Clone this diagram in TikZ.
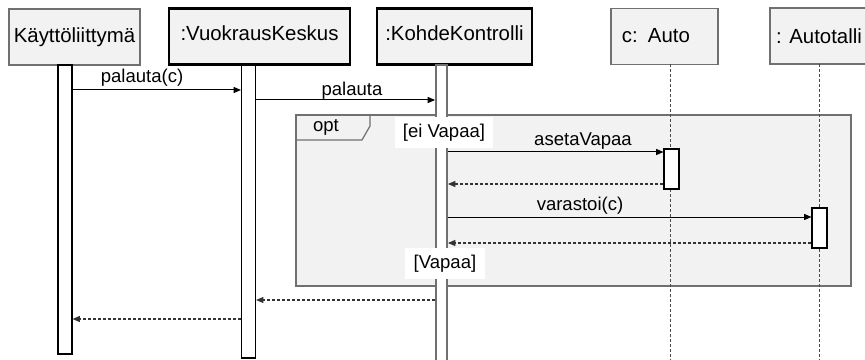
\documentclass[tikz,border=0pt]{standalone}
\usepackage{fontspec}
\setmainfont{Liberation Sans}
\usetikzlibrary{arrows.meta}
\definecolor{boxfill}{HTML}{F2F2F2}
\definecolor{frameline}{HTML}{707070}
\definecolor{lifegray}{HTML}{4A4A4A}
\definecolor{replygray}{HTML}{333333}
\begin{document}
\begin{tikzpicture}[x=0.75pt,y=-0.75pt,
  objbox/.style={draw=frameline, fill=boxfill, line width=0.9pt, inner sep=0pt,
    minimum height=42pt, font=\fontsize{15.3}{17}\selectfont},
  activebox/.style={objbox, draw=black, line width=1.9pt, text depth=5pt},
  bar/.style={draw=black, fill=white, line width=0.8pt, inner sep=0pt, minimum width=10.5pt},
  ctrlbar/.style={draw=frameline, fill=white, line width=1.4pt, inner sep=0pt,
    minimum width=8.25pt, minimum height=228.75pt},
  execbar/.style={draw=black, fill=white, line width=0.8pt, inner sep=0pt,
    minimum width=11.25pt, minimum height=30pt},
  lifeline/.style={draw=lifegray, line width=0.75pt, dash pattern=on 2.25pt off 1.5pt},
  msg/.style={-{Triangle[length=5.5pt,width=4.5pt]}, line width=0.75pt},
  reply/.style={msg, draw=replygray, line width=0.8pt, dash pattern=on 2.25pt off 1.5pt},
  lbl/.style={font=\fontsize{13.9}{15}\selectfont, inner sep=0pt, anchor=base},
  guard/.style={fill=white, inner sep=0pt, minimum height=23.25pt,
    font=\fontsize{13.9}{15}\selectfont},
  frame/.style={draw=frameline, fill=boxfill, line width=0.9pt},
]
\useasboundingbox (0,0) rectangle (865,360);
\clip (0,0) rectangle (865,360);

% participants
\node[objbox, minimum width=98.25pt] (ui) at (74.5,37) {Käyttöliittymä};
\node[activebox, minimum width=135.75pt] (rc) at (259.5,36.5) {:VuokrausKeskus};
\node[activebox, minimum width=116.25pt] (kc) at (454.5,36.5) {:KohdeKontrolli};
\node[objbox, minimum width=80.25pt, text width=64pt, align=left, text depth=0pt, text height=9pt] (car) at (664.5,36.5) {c: Auto};
\node[objbox, minimum width=73.5pt] (gar) at (819,36) {: Autotalli};

% opt fragment
\draw[frame] (296,115) rectangle (851,286);
\draw[draw=frameline, line width=0.9pt] (370,115) -- (370,126) -- (362,140) -- (296,140);
\node[lbl] (optlbl) at (326,132) {opt};

% lifelines of the passive objects
\coordinate (carTop) at (670,64);
\coordinate (carEnd) at (670,362);
\coordinate (garTop) at (819,64);
\coordinate (garEnd) at (819,362);
\draw[lifeline] (carTop) -- (carEnd);
\draw[lifeline] (garTop) -- (garEnd);

% activation bars
\node[bar, minimum height=216.75pt] (uibar) at (65,209.5) {};
\node[bar, minimum height=219.75pt] (rcbar) at (248.5,211.5) {};
\node[ctrlbar] (kcbar) at (441.5,217.5) {};
\node[execbar] (carbar) at (671.5,169) {};
\node[execbar] (garbar) at (819.5,228) {};

% messages
\draw[msg] (uibar.east |- 0,90) -- (rcbar.west |- 0,90);
\node[lbl] (m1) at (142,83) {palauta(c)};
\draw[msg] (rcbar.east |- 0,100) -- (kcbar.west |- 0,100);
\node[lbl] (m2) at (352,96) {palauta};
\draw[msg] (kcbar.east |- 0,152) -- (carbar.west |- 0,152);
\node[lbl] (m3) at (583,146) {asetaVapaa};
\draw[reply] (carbar.west |- 0,184) -- (kcbar.east |- 0,184);
\draw[msg] (kcbar.east |- 0,217) -- (garbar.west |- 0,217);
\node[lbl] (m4) at (580,210) {varastoi(c)};
\draw[reply] (garbar.west |- 0,243) -- (kcbar.east |- 0,243);
\draw[reply] (kcbar.west |- 0,300) -- (rcbar.east |- 0,300);
\draw[reply] (rcbar.west |- 0,319) -- (uibar.east |- 0,319);

% guards
\node[guard, minimum width=73.5pt] (g1) at (444,132.5) {[ei Vapaa]};
\node[guard, minimum width=60pt] (g2) at (445,263.5) {[Vapaa]};
\end{tikzpicture}
\end{document}
